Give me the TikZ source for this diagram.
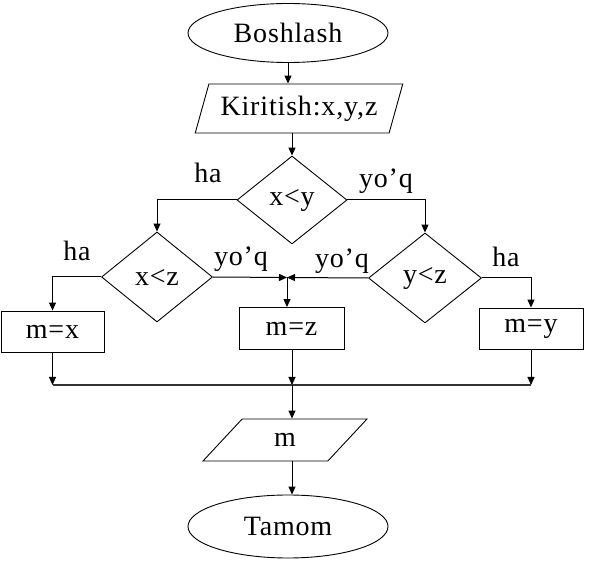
\documentclass[tikz,border=0pt]{standalone}
\usepackage{fontspec}
\setmainfont[LetterSpace=3]{Liberation Serif}
\usetikzlibrary{shapes.geometric,arrows.meta}
\begin{document}
\begin{tikzpicture}[x=1pt,y=-1pt,
  base/.style={font=\fontsize{28}{32}\selectfont, inner sep=0pt},
  term/.style={base, draw, line width=0.9pt, ellipse, minimum width=200pt, minimum height=59pt},
  io/.style={base, draw, line width=0.9pt, trapezium, trapezium stretches=true},
  dec/.style={base, draw, line width=0.9pt, diamond, minimum width=110pt, minimum height=88pt},
  proc/.style={base, draw, line width=0.9pt, rectangle, minimum width=104pt, minimum height=41pt},
  lbl/.style={base, anchor=base},
  arr/.style={-{Triangle[length=8pt,width=7pt]}, line width=1pt},
  bus/.style={line width=1.6pt, black!80}
]
\useasboundingbox (0,0) rectangle (590,564);
\fill[white] (0,0) rectangle (590,564);

\node[term] (b) at (288,33) {Boshlash};
\node[io, trapezium left angle=65, trapezium right angle=115,
      minimum width=208pt, minimum height=49pt] (k) at (299,108.5) {Kiritish:x,y,z};
\node[dec] (d1) at (292,200) {x<y};
\node[dec, minimum width=111pt, minimum height=90pt] (d2) at (157,277) {x<z};
\node[dec, minimum width=113pt, minimum height=90pt] (d3) at (425,278) {y<z};
\node[proc, minimum width=103pt] (mx) at (52.5,331.5) {m=x};
\node[proc, minimum width=105pt, minimum height=42pt] (mz) at (291.5,328.5) {m=z};
\node[proc] (my) at (531,328.5) {m=y};
\node[io, trapezium left angle=53, trapezium right angle=127,
      minimum width=164pt, minimum height=42pt] (m) at (285,440) {m};
\node[term, minimum height=63pt] (t) at (288,526.5) {Tamom};

\node[lbl] (l1) at (208,183) {ha};
\node[lbl] (l2) at (77,261) {ha};
\node[lbl] (l3) at (241,266) {yo’q};
\node[lbl] (l4) at (386,188) {yo’q};
\node[lbl] (l5) at (342,268) {yo’q};
\node[lbl] (l6) at (506,267) {ha};

\coordinate (j) at (287,277.5);
\coordinate (L) at (0,385);
\coordinate (mid) at (292,0);

\draw[arr] (b.south) -- (b.south |- k.north);
\draw[arr] (d1.north |- k.south) -- (d1.north);
\draw[arr] (d1.west) -| (d2.north);
\draw[arr] (d1.east) -| (d3.north);
\draw[arr] (d2.west) -| (mx.north);
\draw[arr] (d3.east) -| (my.north);
\draw[arr] (d2.east) -- (j);
\draw[arr] (d3.west) -- (j);
\draw[arr] (j) -- (j |- mz.north);
\draw[arr] (mx.south) -- (mx.south |- L);
\draw[arr] (mid |- mz.south) -- (mid |- L);
\draw[arr] (my.south) -- (my.south |- L);
\draw[bus] (mx.south |- L) -- (my.south |- L);
\draw[arr] (mid |- L) -- (mid |- m.north);
\draw[arr] (mid |- m.south) -- (mid |- t.north);
\end{tikzpicture}
\end{document}
